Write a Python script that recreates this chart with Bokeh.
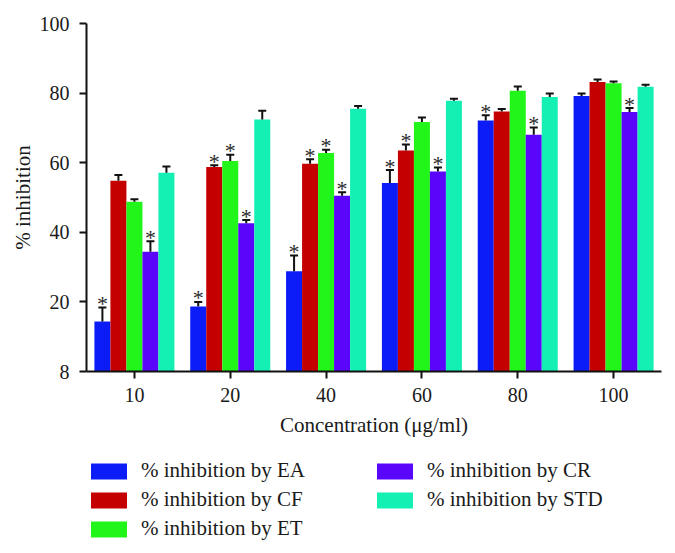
from bokeh.plotting import figure
from bokeh.models import (ColumnDataSource, FactorRange, Range1d, Legend, LegendItem,
                          FixedTicker)
from bokeh.layouts import column
from bokeh.transform import dodge
from bokeh.core.properties import value
from bokeh.embed import file_html
from bokeh.resources import INLINE

concentrations = ["10", "20", "40", "60", "80", "100"]

ea = [14.4, 18.7, 28.8, 54.2, 72.1, 79.2]
ea_err = [4.0, 1.3, 4.5, 3.7, 1.5, 0.7]
ea_sig = [1, 1, 1, 1, 1, 0]

cf = [54.8, 58.8, 59.7, 63.5, 74.7, 83.2]
cf_err = [1.7, 0.5, 1.3, 1.7, 0.7, 0.7]
cf_sig = [0, 1, 1, 1, 0, 0]

et = [48.8, 60.5, 62.8, 71.7, 80.7, 82.8]
et_err = [0.7, 1.8, 0.9, 1.3, 1.2, 0.5]
et_sig = [0, 1, 1, 0, 0, 0]

cr = [34.4, 42.6, 50.5, 57.5, 68.0, 74.6]
cr_err = [3.0, 0.9, 1.0, 1.1, 2.1, 1.1]
cr_sig = [1, 1, 1, 1, 1, 1]

std = [57.1, 72.4, 75.5, 77.8, 78.9, 81.8]
std_err = [1.8, 2.5, 0.8, 0.6, 1.0, 0.6]
std_sig = [0, 0, 0, 0, 0, 0]

series_names = ["% inhibition by EA", "% inhibition by CF", "% inhibition by ET",
                "% inhibition by CR", "% inhibition by STD"]
series_vals = [ea, cf, et, cr, std]
series_errs = [ea_err, cf_err, et_err, cr_err, std_err]
series_sig = [ea_sig, cf_sig, et_sig, cr_sig, std_sig]
colors = ["#0c1cf6", "#c40000", "#22f51a", "#5a06fb", "#14f0b4"]

y_ticks = [0, 20, 40, 60, 80, 100]
y_tick_labels = {0: "8", 20: "20", 40: "40", 60: "60", 80: "80", 100: "100"}

FONT = "Liberation Serif"

p = figure(x_range=FactorRange(*concentrations, range_padding=0),
           y_range=Range1d(0, 100),
           width=668, height=447, output_backend="svg", toolbar_location=None,
           min_border_left=86, min_border_right=7, min_border_top=23,
           min_border_bottom=76)
p.outline_line_color = None
p.xgrid.grid_line_color = None
p.ygrid.grid_line_color = None

# legend panel below the chart
p2 = figure(x_range=FactorRange(*concentrations, range_padding=0),
            y_range=Range1d(0, 100),
            width=668, height=106, output_backend="svg", toolbar_location=None,
            min_border_left=82, min_border_top=11, min_border_right=0,
            min_border_bottom=0)
p2.axis.visible = False
p2.grid.visible = False
p2.outline_line_color = None

bw = 0.167
offsets = [-2 * bw, -bw, 0.0, bw, 2 * bw]

items = []
for name, vals, errs, sig, col, off in zip(series_names, series_vals, series_errs,
                                            series_sig, colors, offsets):
    src = ColumnDataSource(dict(
        conc=concentrations,
        val=vals,
        top=[v + e for v, e in zip(vals, errs)],
        star=["*" if s else "" for s in sig],
    ))
    xd = dodge("conc", off, range=p.x_range)
    p.vbar(x=xd, top="val", bottom=0, width=bw, source=src,
           fill_color=col, line_color=None)
    p.segment(x0=xd, y0="val", x1=xd, y1="top", source=src,
              line_color="#111111", line_width=2)
    p.scatter(x=xd, y="top", marker="dash", size=8, source=src,
              line_color="#111111", line_width=2)
    p.text(x=xd, y="top", text="star", source=src, text_align="center",
           text_baseline="alphabetic", text_font=value(FONT),
           text_font_size="22px", text_color="#2a2a2a", y_offset=-4)
    # hidden copy used only for the legend swatch
    r2 = p2.vbar(x="conc", top="val", bottom=0, width=bw, source=src,
                 fill_color=col, line_color=None, visible=False)
    items.append(LegendItem(label=name, renderers=[r2]))

p.yaxis.ticker = FixedTicker(ticks=y_ticks)
p.yaxis.major_label_overrides = y_tick_labels
for ax in (p.xaxis[0], p.yaxis[0]):
    ax.axis_line_width = 2
    ax.axis_line_color = "#111111"
    ax.major_tick_line_width = 2
    ax.major_tick_line_color = "#111111"
    ax.major_tick_out = 7
    ax.major_tick_in = 0
    ax.minor_tick_line_color = None
    ax.major_label_text_font = FONT
    ax.major_label_text_font_size = "20px"
    ax.major_label_text_color = "#1a1a1a"
    ax.axis_label_text_font = FONT
    ax.axis_label_text_font_size = "21px"
    ax.axis_label_text_font_style = "normal"
    ax.axis_label_text_color = "#1a1a1a"

p.yaxis.axis_label = "% inhibition"
p.yaxis.major_label_standoff = 10
p.yaxis.axis_label_standoff = 2
p.xaxis.axis_label = "Concentration (\u03bcg/ml)"
p.xaxis.major_label_standoff = 9
p.xaxis.axis_label_standoff = 8

legend = Legend(items=items, location="top_left", orientation="vertical", nrows=3,
                glyph_width=45, glyph_height=20, label_standoff=10,
                label_text_font=FONT, label_text_font_size="21px",
                label_text_color="#1a1a1a", label_height=22, label_width=227,
                spacing=4, padding=0, margin=0,
                inactive_fill_alpha=0,
                border_line_color=None, background_fill_alpha=0)
p2.add_layout(legend, "center")

layout = column(p, p2, spacing=0)
open("out.html", "w").write(file_html(layout, INLINE))
